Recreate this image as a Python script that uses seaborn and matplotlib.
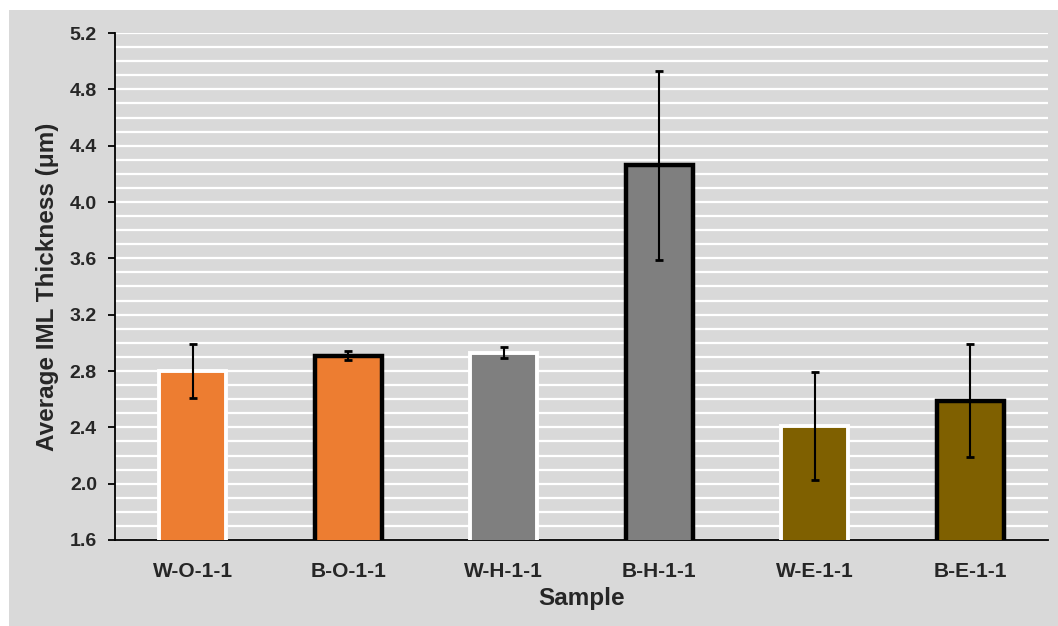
import numpy as np
import pandas as pd
import seaborn as sns
import matplotlib.pyplot as plt
from matplotlib.ticker import MultipleLocator

# data
samples = ['W-O-1-1', 'B-O-1-1', 'W-H-1-1', 'B-H-1-1', 'W-E-1-1', 'B-E-1-1']
thickness = [2.80, 2.91, 2.93, 4.26, 2.41, 2.59]
errors = [0.19, 0.035, 0.04, 0.67, 0.385, 0.40]
fill_colors = ['#ED7D31', '#ED7D31', '#7F7F7F', '#7F7F7F', '#7F6000', '#7F6000']
edge_colors = ['white', 'black', 'white', 'black', 'white', 'black']

df = pd.DataFrame({'Sample': samples, 'Thickness': thickness})

sns.set_theme(style='white')
plt.rcParams['font.family'] = ['Liberation Sans', 'DejaVu Sans']

fig = plt.figure(figsize=(10.58, 6.26), dpi=100)
# gray chart area behind the axes
fig.patches.append(plt.Rectangle((9 / 1058, 0), 1 - 9 / 1058, 1 - 10 / 626,
                                 transform=fig.transFigure, facecolor='#D9D9D9',
                                 edgecolor='none', zorder=-5))
ax = fig.add_axes([115 / 1058, 1 - 540 / 626, (1048 - 115) / 1058, (540 - 33) / 626])
ax.set_facecolor('#D9D9D9')

sns.barplot(data=df, x='Sample', y='Thickness', hue='Sample', palette=fill_colors,
            saturation=1, width=0.43, legend=False, ax=ax, zorder=3)
for bar, ec in zip(ax.patches, edge_colors):
    bar.set_edgecolor(ec)
    bar.set_linewidth(3.2 if ec == 'black' else 2.8)

ax.errorbar(np.arange(len(samples)), thickness, yerr=errors, fmt='none',
            ecolor='black', elinewidth=1.5, capsize=2.7, capthick=2, zorder=4)

ax.set_ylim(1.6, 5.2)
ax.set_xlim(-0.5, 5.5)
ax.yaxis.set_major_locator(MultipleLocator(0.4))
ax.yaxis.set_minor_locator(MultipleLocator(0.1))
ax.grid(axis='y', which='both', color='white', linewidth=1.6, zorder=0)
ax.set_axisbelow(True)

for side in ['top', 'right']:
    ax.spines[side].set_visible(False)
for side in ['left', 'bottom']:
    ax.spines[side].set_color('black')
    ax.spines[side].set_linewidth(1.3)

ax.tick_params(axis='y', which='major', left=True, length=5, width=1.3, color='black',
               labelsize=14, pad=8)
ax.tick_params(axis='y', which='minor', left=False)
ax.tick_params(axis='x', bottom=False, labelsize=15, pad=10)
ax.set_yticks(np.arange(1.6, 5.21, 0.4))
ax.set_yticklabels([f'{v:.1f}' for v in np.arange(1.6, 5.21, 0.4)], fontweight='bold')
for lbl in ax.get_xticklabels():
    lbl.set_fontweight('bold')

ax.set_xlabel('Sample', fontsize=17.5, fontweight='bold', labelpad=4)
ax.set_ylabel('Average IML Thickness (\u03bcm)', fontsize=17.5, fontweight='bold', labelpad=8)

fig.savefig('out.png', dpi=100)
